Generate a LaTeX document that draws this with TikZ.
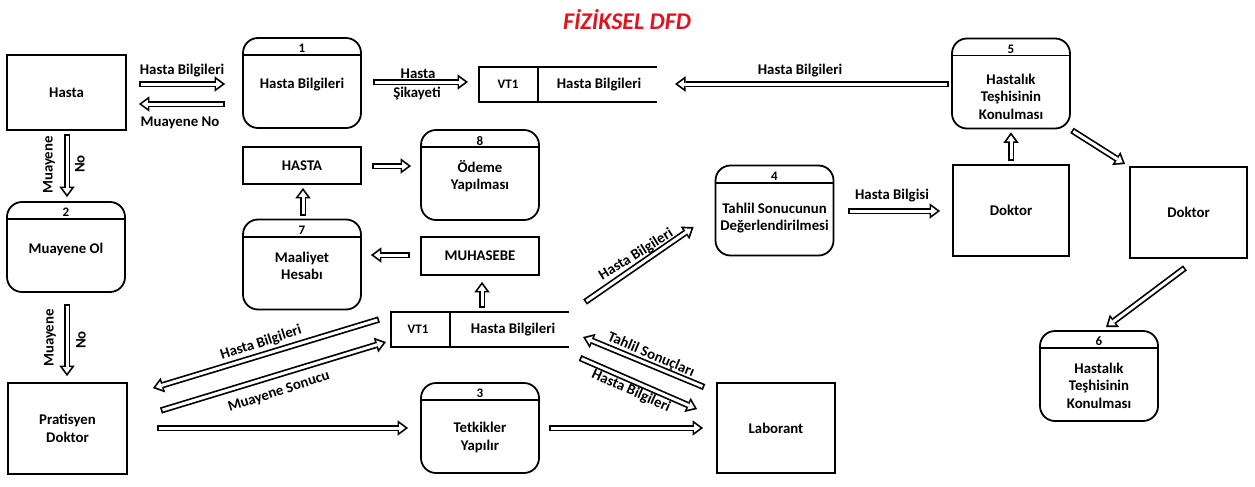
\documentclass[tikz,border=0pt]{standalone}
\usepackage{fontspec}
\setmainfont{Carlito}
\usetikzlibrary{arrows.meta,calc}

\definecolor{baslikkirmizi}{RGB}{225,20,30}

\tikzset{
  kutu/.style={draw, line width=1.8pt, inner sep=0pt, align=center},
  surecbox/.style={draw, line width=1.8pt, rounded corners=15pt, minimum width=118pt, minimum height=90pt, inner sep=0pt},
  numara/.style={font=\fontsize{13}{15}\selectfont\bfseries, inner sep=0pt},
  yazi/.style={align=center, inner sep=1pt},
  akis/.style={line width=6.4pt, -{Triangle[length=10.5pt,width=15.5pt,line width=0pt]},
    postaction={draw=white, line width=3pt, shorten <=1.7pt, shorten >=2.9pt,
      -{Triangle[length=6pt,width=8.9pt,line width=0pt]}}}
}

% surec: isim, x, y, numara, metin, metin kaydirma
\newcommand{\surec}[6]{%
  \node[surecbox] (#1) at (#2,#3) {};
  \draw[line width=1.8pt] ($(#1.north west)+(0,18)$) -- ($(#1.north east)+(0,18)$);
  \node[numara] (#1no) at ($(#1.north)+(0,11.5)$) {#4};
  \node[yazi] (#1yazi) at ($(#1.center)+(0,#6)$) {#5};
}

\begin{document}
\begin{tikzpicture}[x=1pt, y=-1pt, font=\fontsize{14.8}{17.5}\selectfont\bfseries]

  \useasboundingbox (0,0) rectangle (1255,487);

  \node[font=\fontsize{24}{28}\selectfont\bfseries\itshape, text=baslikkirmizi] (baslik) at (627,20) {FİZİKSEL DFD};

  % dis varliklar
  \node[kutu, minimum width=119pt, minimum height=75pt] (hasta) at (66.5,92.5) {Hasta};
  \node[kutu, minimum width=116pt, minimum height=91pt] (dok1) at (1011,210.5) {Doktor};
  \node[kutu, minimum width=117pt, minimum height=91pt] (dok2) at (1188.5,212.5) {Doktor};
  \node[kutu, minimum width=119pt, minimum height=91pt] (prat) at (67.5,428.5) {Pratisyen\\Doktor};
  \node[kutu, minimum width=118pt, minimum height=90pt] (lab) at (776,428) {Laborant};
  \node[kutu, minimum width=118pt, minimum height=37pt] (hastabox) at (302,165.5) {HASTA};
  \node[kutu, minimum width=118pt, minimum height=38pt] (muh) at (480,256) {MUHASEBE};

  % surecler
  \surec{p1}{302}{83}{1}{Hasta Bilgileri}{2}
  \surec{p2}{66}{247}{2}{Muayene Ol}{2}
  \surec{p3}{480}{428}{3}{Tetkikler\\Yapılır}{9.5}
  \surec{p4}{774.5}{210.5}{4}{Tahlil Sonucunun\\Değerlendirilmesi}{7.5}
  \surec{p5}{1011}{83.5}{5}{Hastalık\\Teşhisinin\\Konulması}{13}
  \surec{p6}{1099}{376}{6}{Hastalık\\Teşhisinin\\Konulması}{9.5}
  \surec{p7}{302}{264.5}{7}{Maaliyet\\Hesabı}{1.5}
  \surec{p8}{480}{175}{8}{Ödeme\\Yapılması}{1}

  % veri depolari
  \node[minimum width=178pt, minimum height=35pt, inner sep=0pt, outer sep=0pt] (vt1a) at (568,84.5) {};
  \draw[line width=1.8pt] (vt1a.north east) -- (vt1a.north west) -- (vt1a.south west) -- (vt1a.south east)
    ($(vt1a.north west)+(59,0)$) -- ($(vt1a.south west)+(59,0)$);
  \node[numara] (vt1akod) at ($(vt1a.west)+(29,0)$) {VT1};
  \node (vt1aad) at ($(vt1a.west)+(120,0)$) {Hasta Bilgileri};

  \node[minimum width=178pt, minimum height=35pt, inner sep=0pt, outer sep=0pt] (vt1b) at (480,329.5) {};
  \draw[line width=1.8pt] (vt1b.north east) -- (vt1b.north west) -- (vt1b.south west) -- (vt1b.south east)
    ($(vt1b.north west)+(59,0)$) -- ($(vt1b.south west)+(59,0)$);
  \node[numara] (vt1bkod) at ($(vt1b.west)+(27,0)$) {VT1};
  \node (vt1bad) at ($(vt1b.west)+(122,0)$) {Hasta Bilgileri};

  % akislar
  \draw[akis] ($(hasta.east)+(12,-8.5)$) -- ($(p1.west)+(-17,1)$);
  \draw[akis] ($(p1.west)+(-17,21)$) -- ($(hasta.east)+(12,11.5)$);
  \draw[akis] ($(p1.east)+(11,-1)$) -- ($(vt1a.west)+(-11,-2.5)$);
  \draw[akis] ($(p5.west)+(-2,0.5)$) -- ($(vt1a.east)+(18,-0.5)$);
  \draw[akis] ($(dok1.north)+(0,-3)$) -- ($(p5.south)+(0,3)$);
  \draw[akis] ($(p5.south east)+(1,1)$) -- ($(dok2.north west)+(-4,-2)$);
  \draw[akis] ($(dok2.south)+(-3.5,9)$) -- ($(p6.north)+(7,-3)$);
  \draw[akis] ($(hasta.south)+(0.5,3)$) -- ($(p2.north)+(1,-4)$);
  \draw[akis] ($(p2.south)+(1,11)$) -- ($(prat.north)+(-0.5,-6)$);
  \draw[akis] ($(prat.east)+(29,-0.5)$) -- ($(p3.west)+(-12,0)$);
  \draw[akis] ($(vt1b.west)+(-12,-10)$) -- ($(prat.north east)+(25,6)$);
  \draw[akis] ($(prat.east)+(33,-18)$) -- ($(vt1b.west)+(-5,12.5)$);
  \draw[akis] ($(p7.north)+(1,-3)$) -- ($(hastabox.south)+(1,3)$);
  \draw[akis] ($(vt1b.north)+(2,-4)$) -- ($(muh.south)+(2,6)$);
  \draw[akis] ($(muh.west)+(-10,-1)$) -- ($(p7.east)+(9,-9.5)$);
  \draw[akis] ($(vt1b.north east)+(16,-10)$) -- ($(p4.west)+(-21,16.5)$);
  \draw[akis] ($(p4.east)+(14,0.5)$) -- ($(dok1.west)+(-12,0.5)$);
  \draw[akis] ($(lab.north west)+(-12,5)$) -- ($(vt1b.east)+(14,7.5)$);
  \draw[akis] ($(vt1b.east)+(11,28.5)$) -- ($(lab.north west)+(-19,27)$);
  \draw[akis] ($(p3.east)+(9,0)$) -- ($(lab.west)+(-13,0)$);
  \draw[akis] ($(hastabox.east)+(10,0.5)$) -- ($(p8.west)+(-9,-9)$);

  % akis etiketleri
  \node[yazi, anchor=base] (e1) at (182,74.5) {Hasta Bilgileri};
  \node[yazi, anchor=base] (e2) at (180,126) {Muayene No};
  \node[yazi, anchor=base] (e3) at (418,78) {Hasta};
  \node[yazi, anchor=base] (e4) at (417,97.5) {Şikayeti};
  \node[yazi, anchor=base] (e5) at (800,74.5) {Hasta Bilgileri};
  \node[yazi, anchor=base] (e6) at (892,199.5) {Hasta Bilgisi};
  \node[yazi, rotate=90] (e7) at (49,165) {Muayene};
  \node[yazi, rotate=90] (e8) at (80,164) {No};
  \node[yazi, rotate=90] (e9) at (50,338) {Muayene};
  \node[yazi, rotate=90] (e10) at (81,340) {No};
  \node[yazi, rotate=18] (e11) at (261,343) {Hasta Bilgileri};
  \node[yazi, rotate=18] (e12) at (279,392) {Muayene Sonucu};
  \node[yazi, rotate=32] (e13) at (636,255) {Hasta Bilgileri};
  \node[yazi, rotate=-23] (e14) at (651,355) {Tahlil Sonuçları};
  \node[yazi, rotate=-24] (e15) at (631,391) {Hasta Bilgileri};

\end{tikzpicture}
\end{document}
